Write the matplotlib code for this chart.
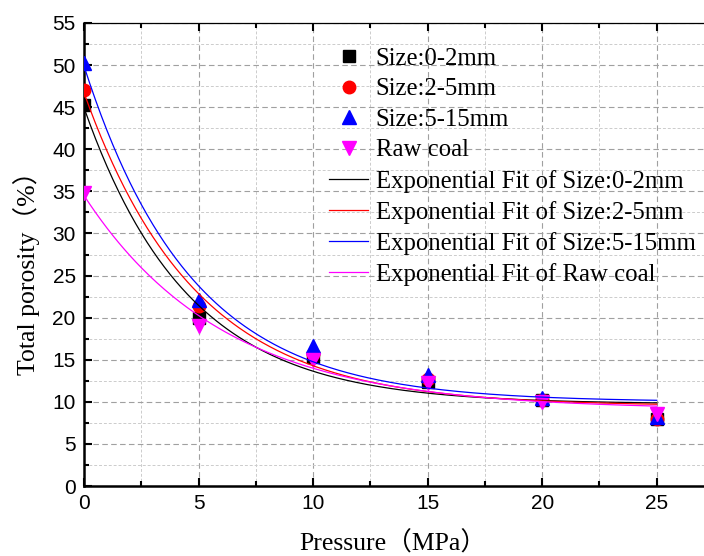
import numpy as np
import matplotlib
matplotlib.use('Agg')
import matplotlib.pyplot as plt
from matplotlib.ticker import MultipleLocator

# Pressure steps (MPa) and total porosity (%) per sample
pressure = [0, 5, 10, 15, 20, 25]
por_0_2 = [45.2, 20.0, 15.3, 12.4, 10.2, 8.0]
por_2_5 = [47.0, 21.4, 15.7, 12.7, 10.2, 7.9]
por_5_15 = [50.2, 22.1, 16.6, 13.2, 10.5, 8.2]
por_raw = [34.8, 19.0, 15.0, 12.2, 10.0, 8.5]

names = ['Size:0-2mm', 'Size:2-5mm', 'Size:5-15mm', 'Raw coal']
colors = ['black', 'red', 'blue', 'magenta']
markers = ['s', 'o', '^', 'v']
msizes = [8, 9, 10, 10]

SERIF = ['Liberation Serif', 'Noto Sans CJK SC']


def exp_fit(x, y):
    """Least-squares fit of y = y0 + A*exp(-x/t); grid over t, linear solve for y0, A."""
    x = np.asarray(x, float)
    y = np.asarray(y, float)
    best = None
    for t in np.linspace(0.5, 20, 4000):
        M = np.column_stack([np.ones_like(x), np.exp(-x / t)])
        coef, *_ = np.linalg.lstsq(M, y, rcond=None)
        err = np.sum((M @ coef - y) ** 2)
        if best is None or err < best[0]:
            best = (err, coef[0], coef[1], t)
    return best[1:]


fig = plt.figure(figsize=(7.04, 5.56), dpi=100)
ax = fig.add_axes([84 / 704, 1 - 486 / 556, 630 / 704, 463 / 556])

series = [por_0_2, por_2_5, por_5_15, por_raw]
for y, lbl, c, m, ms in zip(series, names, colors, markers, msizes):
    ax.plot(pressure, y, ls='none', marker=m, color=c, ms=ms, label=lbl, zorder=3)

xs = np.linspace(0, 25, 300)
for y, lbl, c in zip(series, names, colors):
    y0, A, t = exp_fit(pressure, y)
    ax.plot(xs, y0 + A * np.exp(-xs / t), color=c, lw=0.9,
            label='Exponential Fit of ' + lbl, zorder=4)

ax.set_xlim(0, 27.5)
ax.set_ylim(0, 55)
ax.xaxis.set_major_locator(MultipleLocator(5))
ax.xaxis.set_minor_locator(MultipleLocator(2.5))
ax.yaxis.set_major_locator(MultipleLocator(5))
ax.yaxis.set_minor_locator(MultipleLocator(2.5))

ax.grid(True, which='major', color='#a0a0a0', ls=(0, (5, 3)), lw=0.8)
ax.grid(True, which='minor', color='#cccccc', ls=(0, (3, 2)), lw=0.7)
ax.set_axisbelow(True)

for side in ('left', 'bottom'):
    ax.spines[side].set_linewidth(1.8)
ax.spines['top'].set_linewidth(0.9)
ax.spines['right'].set_visible(False)

ax.tick_params(which='both', direction='in', top=True, right=False, width=1.5)
ax.tick_params(which='major', length=6)
ax.tick_params(which='minor', length=3.5)
ax.tick_params(axis='both', labelsize=15, pad=6)
for lab in ax.get_xticklabels() + ax.get_yticklabels():
    lab.set_family(['Liberation Sans', 'DejaVu Sans'])

ax.set_xlabel('Pressure（MPa）', family=SERIF, fontsize=18.5)
ax.set_ylabel('Total porosity（%）', family=SERIF, fontsize=18.5)
ax.xaxis.set_label_coords(0.49, -0.097)
ax.yaxis.set_label_coords(-0.07, 0.474)

ax.legend(loc='upper left', bbox_to_anchor=(0.373, 0.968), frameon=False,
          prop={'family': SERIF, 'size': 17.8}, labelspacing=0.33,
          handlelength=1.6, handletextpad=0.3, borderaxespad=0, markerscale=1.0)

fig.savefig('out.png', dpi=100)
